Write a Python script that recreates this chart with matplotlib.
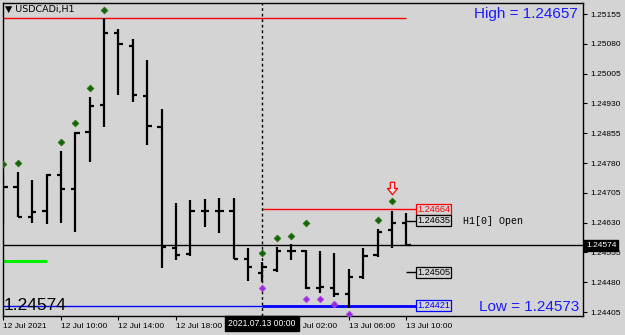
import matplotlib.pyplot as plt
import numpy as np

# USDCADi H1 bars, 12 Jul 06:00 .. 13 Jul 10:00
opens = [1.24720, 1.24720, 1.24644, 1.24659, 1.24750, 1.24715, 1.24858, 1.24926, 1.25107, 1.25074,
         1.24949, 1.24871, 1.24566, 1.24551, 1.24659, 1.24659, 1.24659, 1.24538, 1.24503, 1.24511,
         1.24558, 1.24558, 1.24465, 1.24465, 1.24450, 1.24493, 1.24548, 1.24611, 1.24629]
highs = [1.24755, 1.24757, 1.24737, 1.24752, 1.24810, 1.24858, 1.24946, 1.25145, 1.25117, 1.25092,
         1.25039, 1.24916, 1.24679, 1.24687, 1.24689, 1.24692, 1.24692, 1.24566, 1.24531, 1.24569,
         1.24576, 1.24561, 1.24558, 1.24553, 1.24513, 1.24566, 1.24614, 1.24659, 1.24654]
lows = [1.24626, 1.24644, 1.24629, 1.24626, 1.24629, 1.24606, 1.24783, 1.24871, 1.24951, 1.24934,
        1.24825, 1.24516, 1.24536, 1.24546, 1.24619, 1.24604, 1.24538, 1.24483, 1.24480, 1.24506,
        1.24536, 1.24463, 1.24453, 1.24443, 1.24415, 1.24488, 1.24543, 1.24566, 1.24571]
closes = [1.24720, 1.24644, 1.24657, 1.24750, 1.24715, 1.24856, 1.24923, 1.25107, 1.25080, 1.24951,
          1.24873, 1.24569, 1.24548, 1.24659, 1.24659, 1.24659, 1.24538, 1.24518, 1.24518, 1.24558,
          1.24558, 1.24465, 1.24468, 1.24450, 1.24493, 1.24546, 1.24606, 1.24629, 1.24574]

up_idx = [0, 1, 4, 5, 6, 7, 18, 19, 20, 21, 26, 27]
up_vals = [1.24777, 1.24780, 1.24833, 1.24881, 1.24969, 1.25165,
           1.24553, 1.24591, 1.24596, 1.24629, 1.24637, 1.24684]
down_idx = [18, 21, 22, 23, 24]
down_vals = [1.24465, 1.24438, 1.24438, 1.24425, 1.24400]
arrow_idx = 27
arrow_val = 1.24717

time_ticks = [0, 4, 8, 12, 16, 20, 24, 28]
time_labels = ['12 Jul 2021', '12 Jul 10:00', '12 Jul 14:00', '12 Jul 18:00',
               '12 Jul 22:00', '13 Jul 02:00', '13 Jul 06:00', '13 Jul 10:00']
price_ticks = [1.25155, 1.25080, 1.25005, 1.24930, 1.24855, 1.24780,
               1.24705, 1.24630, 1.24555, 1.24480, 1.24405]

range_high = 1.25145
range_low = 1.24420
day_high = 1.24664
day_open = 1.24635
day_mid = 1.24505
day_low = 1.24421
bid = 1.24574
green_level = 1.24533
cross_idx = 18

bg = '#D4D4D4'
plt.rcParams['font.family'] = ['Liberation Sans', 'DejaVu Sans']

W, H = 625, 335


def fx(x):
    return x / W


def fy(y):
    return 1 - y / H


fig = plt.figure(figsize=(6.25, 3.35), dpi=100, facecolor=bg)
ax = fig.add_axes([fx(2.5), fy(316), (583 - 2.5) / W, (316 - 3) / H])
ax.set_facecolor(bg)
ax.set_xlim(-0.056, 40.26)
ax.set_ylim(1.24395, 1.25183)

idx = np.arange(len(opens))
o = np.array(opens)
c = np.array(closes)

# level lines
ax.axhline(bid, color='black', lw=1, zorder=2)
ax.hlines(range_high, -1, 28, color='red', lw=1, zorder=2)
ax.hlines(range_low, -1, 28, color='blue', lw=1, zorder=2)
ax.hlines(day_high, cross_idx, 28.7, color='red', lw=1, zorder=2)
ax.hlines(day_low, cross_idx, 28.7, color='blue', lw=2, zorder=2)
ax.hlines([day_open, day_mid], 28, 28.7, color='black', lw=1, zorder=2)
ax.hlines(green_level, -1, 3.05, color='#00EE00', lw=2.2, zorder=2)
ax.axvline(cross_idx, color='black', lw=1, linestyle=(0, (2, 2)), zorder=2)

# OHLC bars
ax.vlines(idx, lows, highs, color='black', lw=1.6, zorder=3)
ax.hlines(o, idx - 0.3, idx, color='black', lw=1.6, zorder=3)
ax.hlines(c, idx, idx + 0.3, color='black', lw=1.6, zorder=3)

# fractal markers
ax.plot(up_idx, up_vals, 'D', ms=3.4, mfc='#0A6A0A', mec='#3A6A10', mew=0.6, zorder=4)
ax.plot(down_idx, down_vals, 'D', ms=3.4, mfc='#9A28DC', mec='#B050E8', mew=0.6, zorder=4)
arrow = [(-0.35, 1), (0.35, 1), (0.35, 0), (0.8, 0), (0, -1), (-0.8, 0), (-0.35, 0), (-0.35, 1)]
ax.plot(arrow_idx, arrow_val, marker=arrow, ms=9, mfc='#E8E8E8', mec='red', mew=0.9, zorder=4)

# price labels to the right of the bars
box_x = 28.75
for val, txt, col in [(day_high, '1.24664', 'red'), (day_open, '1.24635', 'black'),
                      (day_mid, '1.24505', 'black'), (day_low, '1.24421', 'blue')]:
    ax.text(box_x, val, txt, color=col, fontsize=6.6, ha='left', va='center', zorder=5,
            bbox=dict(boxstyle='square,pad=0.12', fc=bg, ec=col, lw=0.9))
ax.text(31.9, day_open, 'H1[0] Open', family='Liberation Mono', fontsize=7.2,
        ha='left', va='center', zorder=5)

# axes styling
for s in ax.spines.values():
    s.set_color('black')
    s.set_linewidth(1)
ax.yaxis.tick_right()
ax.set_yticks(price_ticks)
ax.set_yticklabels(['%.5f' % p for p in price_ticks])
ax.tick_params(axis='y', length=3, width=0.8, pad=2, labelsize=6)
ax.set_xticks(time_ticks)
ax.set_xticklabels(time_labels)
for lab in ax.get_xticklabels():
    lab.set_ha('left')
ax.tick_params(axis='x', length=3, width=0.8, pad=2, labelsize=6)

# overlay texts
fig.text(fx(5), fy(9), '\u25bc USDCADi,H1', fontsize=6.8, ha='left', va='center',
         family=['DejaVu Sans'])
fig.text(fx(578), fy(14), 'High = 1.24657', color='#1A1AFF', fontsize=11, ha='right', va='center')
fig.text(fx(579), fy(307), 'Low = 1.24573', color='#1A1AFF', fontsize=11, ha='right', va='center')
fig.text(fx(4), fy(305), '1.24574', color='black', fontsize=12.5, ha='left', va='center')
fig.text(fx(586), fy(245.5), '1.24574', color='white', fontsize=6, ha='left', va='center',
         bbox=dict(boxstyle='square,pad=0.2', fc='black', ec='black'))
fig.text(fx(262), fy(323.5), '2021.07.13 00:00', color='white', fontsize=6.2, ha='center', va='center',
         bbox=dict(boxstyle='square,pad=0.4', fc='black', ec='black'), zorder=10)

fig.savefig('out.png', dpi=100, facecolor=bg)
